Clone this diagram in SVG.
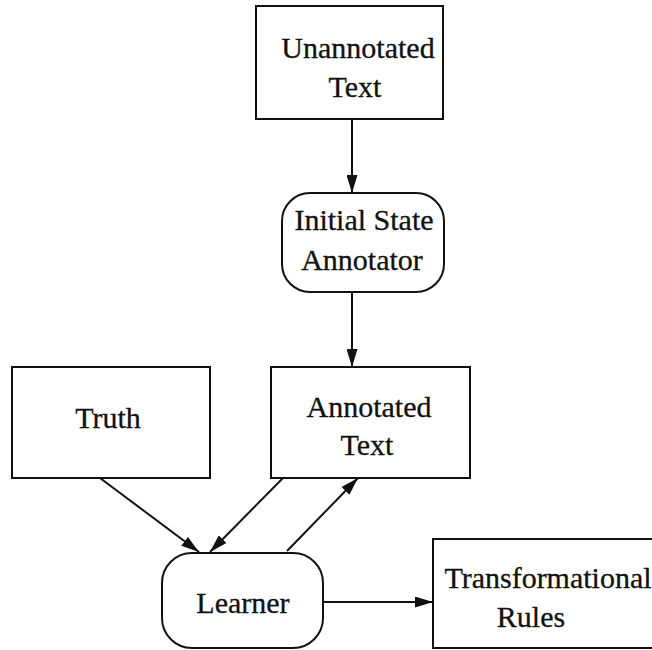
<svg xmlns="http://www.w3.org/2000/svg" width="652" height="650" viewBox="0 0 652 650">
<style>
.box{fill:#fff;stroke:#111;stroke-width:2}
.lbl{font-family:"Liberation Serif","Times New Roman",serif;font-size:30px;fill:#111;stroke:#111;stroke-width:0.3;text-anchor:middle}
.conn{stroke:#111;stroke-width:2;fill:none;marker-end:url(#ah)}
</style>
<defs>
<marker id="ah" viewBox="0 0 18 11" refX="18" refY="5.5" markerWidth="18" markerHeight="11" markerUnits="userSpaceOnUse" orient="auto">
<path d="M0,0 L18,5.5 L0,11 Z" fill="#111"/>
</marker>
</defs>
<rect width="652" height="650" fill="#fff"/>
<g id="connectors">
<line class="conn" x1="352" y1="119" x2="352" y2="193"/>
<line class="conn" x1="352" y1="292" x2="352" y2="367"/>
<line class="conn" x1="100" y1="478" x2="199" y2="552"/>
<line class="conn" x1="283" y1="478" x2="210" y2="552"/>
<line class="conn" x1="287" y1="551" x2="358" y2="478"/>
<line class="conn" x1="323" y1="602" x2="433" y2="602"/>
</g>
<g id="unannotated">
<rect class="box" x="256" y="6" width="187" height="113"/>
<text class="lbl" x="358" y="58">Unannotated</text>
<text class="lbl" x="355" y="97">Text</text>
</g>
<g id="initial">
<rect class="box" x="282" y="193" width="162" height="99" rx="28" ry="28"/>
<text class="lbl" x="364" y="230">Initial State</text>
<text class="lbl" x="362" y="270">Annotator</text>
</g>
<g id="truth">
<rect class="box" x="12" y="367" width="198" height="111"/>
<text class="lbl" x="108" y="428">Truth</text>
</g>
<g id="annotated">
<rect class="box" x="271" y="367" width="199" height="111"/>
<text class="lbl" x="369" y="417">Annotated</text>
<text class="lbl" x="367" y="455">Text</text>
</g>
<g id="learner">
<rect class="box" x="162" y="553" width="161" height="95" rx="30" ry="30"/>
<text class="lbl" x="243" y="613">Learner</text>
</g>
<g id="rules">
<rect class="box" x="433" y="539" width="225" height="109"/>
<text class="lbl" x="548" y="588">Transformational</text>
<text class="lbl" x="531" y="627">Rules</text>
</g>
</svg>
